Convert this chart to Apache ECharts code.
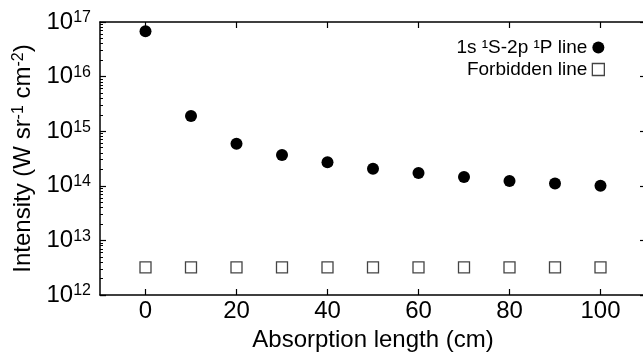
<!DOCTYPE html>
<html><head><meta charset="utf-8">
<script src="https://cdn.jsdelivr.net/npm/echarts@6/dist/echarts.min.js"></script>
<style>html,body{margin:0;padding:0;background:#fff}#c{width:643px;height:353px}</style>
</head><body><div id="c"></div>
<script>
var xValues = [0, 10, 20, 30, 40, 50, 60, 70, 80, 90, 100];
var allowedLine = [6.8e16, 1.9e15, 5.9e14, 3.65e14, 2.7e14, 2.06e14, 1.71e14, 1.45e14, 1.22e14, 1.1e14, 1.0e14];
var forbiddenLine = [3.2e12, 3.2e12, 3.2e12, 3.2e12, 3.2e12, 3.2e12, 3.2e12, 3.2e12, 3.2e12, 3.2e12, 3.2e12];
var xTicks = [0, 20, 40, 60, 80, 100];
var seriesNames = ['1s \u00b9S-2p \u00b9P line', 'Forbidden line'];

var FONT = 'Liberation Sans, Arial, sans-serif';
var chart = echarts.init(document.getElementById('c'));
function pairs(xs, ys){ return xs.map(function(x,i){return [x, ys[i]];}); }
var axisLine = {show:true, onZero:false, lineStyle:{color:'#000', width:1.5}};
chart.setOption({
  animation:false,
  grid:{left:100, top:22, width:546, height:273, show:false, containLabel:false, outerBoundsMode:'none'},
  legend:{
    right:33, top:33, orient:'vertical', align:'right', itemGap:3,
    itemWidth:12, itemHeight:12,
    textStyle:{fontFamily:FONT, fontSize:19, color:'#000', padding:[0,0,0,0]},
    data:[{name:seriesNames[0], icon:'circle', itemStyle:{color:'#000', opacity:1}},
          {name:seriesNames[1], icon:'rect', itemStyle:{color:'#fff', borderColor:'#444', borderWidth:1.3, opacity:1}}]
  },
  xAxis:[{
    type:'value', min:-10, max:110, position:'bottom',
    name:'Absorption length (cm)', nameLocation:'middle', nameGap:31,
    nameTextStyle:{fontFamily:FONT, fontSize:24, color:'#000'},
    axisLine:axisLine,
    axisTick:{show:true, inside:true, length:6, customValues:xTicks, lineStyle:{color:'#000', width:1.2}},
    axisLabel:{customValues:xTicks, fontFamily:FONT, fontSize:24, color:'#000', margin:4},
    splitLine:{show:false}
  },{
    type:'value', min:-10, max:110, position:'top',
    axisLine:axisLine,
    axisTick:{show:true, inside:true, length:6, customValues:xTicks, lineStyle:{color:'#000', width:1.2}},
    axisLabel:{show:false, customValues:xTicks},
    splitLine:{show:false}
  }],
  yAxis:[{
    type:'log', logBase:10, min:1e12, max:1e17, position:'left',
    name:'{b|Intensity (W sr}{s|-1}{b| cm}{s|-2}{b|)}', nameLocation:'middle', nameGap:64, nameRotate:90,
    nameTextStyle:{fontFamily:FONT, color:'#000', rich:{
      b:{fontFamily:FONT, fontSize:24, color:'#000', verticalAlign:'bottom', lineHeight:26},
      s:{fontFamily:FONT, fontSize:16, color:'#000', verticalAlign:'bottom', lineHeight:26, padding:[0,0,9,0]}
    }},
    axisLine:axisLine,
    axisTick:{show:true, inside:true, length:6, lineStyle:{color:'#000', width:1.2}},
    minorTick:{show:true, splitNumber:9, length:3, lineStyle:{color:'#000', width:1}},
    axisLabel:{
      margin:9, fontFamily:FONT, color:'#000',
      formatter:function(v){ var e=Math.round(Math.log10(v)); return '{b|10}{s|'+e+'}'; },
      rich:{
        b:{fontFamily:FONT, fontSize:24, color:'#000', verticalAlign:'bottom', lineHeight:24},
        s:{fontFamily:FONT, fontSize:16, color:'#000', verticalAlign:'bottom', lineHeight:24, padding:[0,0,8,0]}
      }
    },
    splitLine:{show:false}, minorSplitLine:{show:false}
  },{
    type:'log', logBase:10, min:1e12, max:1e17, position:'right',
    axisLine:axisLine,
    axisTick:{show:true, inside:true, length:6, lineStyle:{color:'#000', width:1.2}},
    axisLabel:{show:false},
    splitLine:{show:false}
  }],
  series:[{
    name:seriesNames[0], type:'scatter', symbol:'circle', symbolSize:12,
    itemStyle:{color:'#000', opacity:1}, data:pairs(xValues, allowedLine)
  },{
    name:seriesNames[1], type:'scatter', symbol:'rect', symbolSize:11,
    itemStyle:{color:'#fff', borderColor:'#444', borderWidth:1.3, opacity:1}, data:pairs(xValues, forbiddenLine)
  }]
});
</script></body></html>
